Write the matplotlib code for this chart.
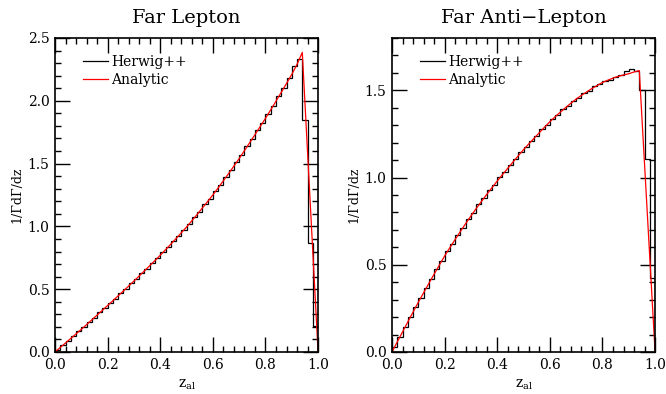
import matplotlib
matplotlib.use("Agg")
import matplotlib.pyplot as plt
import numpy as np
from matplotlib.ticker import MultipleLocator

plt.rcParams['font.family'] = 'DejaVu Serif'
plt.rcParams['mathtext.fontset'] = 'dejavuserif'

# bin edges of the Herwig++ histograms
bin_edges = np.linspace(0.0, 1.0, 51)

# Far lepton: Herwig++ histogram heights
lep_hist = [0.018, 0.058, 0.088, 0.124, 0.164, 0.199, 0.240, 0.273, 0.315, 0.349,
            0.391, 0.425, 0.468, 0.503, 0.547, 0.583, 0.628, 0.664, 0.709, 0.746,
            0.795, 0.833, 0.882, 0.922, 0.975, 1.016, 1.072, 1.117, 1.175, 1.221,
            1.282, 1.330, 1.396, 1.447, 1.514, 1.566, 1.638, 1.694, 1.766, 1.823,
            1.898, 1.957, 2.036, 2.098, 2.180, 2.280, 2.333, 1.850, 0.870, 0.207]

# Far lepton: analytic curve
lep_z = [0.00, 0.02, 0.04, 0.06, 0.08, 0.10, 0.12, 0.14, 0.16, 0.18,
         0.20, 0.22, 0.24, 0.26, 0.28, 0.30, 0.32, 0.34, 0.36, 0.38,
         0.40, 0.42, 0.44, 0.46, 0.48, 0.50, 0.52, 0.54, 0.56, 0.58,
         0.60, 0.62, 0.64, 0.66, 0.68, 0.70, 0.72, 0.74, 0.76, 0.78,
         0.80, 0.82, 0.84, 0.86, 0.88, 0.90, 0.92, 0.94, 1.00]
lep_ana = [0.000, 0.036, 0.072, 0.108, 0.144, 0.180, 0.218, 0.256, 0.294, 0.332,
           0.370, 0.408, 0.447, 0.486, 0.525, 0.565, 0.605, 0.646, 0.687, 0.728,
           0.770, 0.814, 0.858, 0.903, 0.949, 0.995, 1.044, 1.094, 1.146, 1.198,
           1.250, 1.306, 1.363, 1.421, 1.480, 1.540, 1.603, 1.666, 1.730, 1.795,
           1.860, 1.928, 1.997, 2.067, 2.138, 2.210, 2.290, 2.385, 0.000]

# Far anti-lepton: Herwig++ histogram heights
anti_hist = [0.031, 0.085, 0.146, 0.198, 0.259, 0.310, 0.369, 0.417, 0.475, 0.521,
             0.577, 0.619, 0.671, 0.711, 0.761, 0.798, 0.846, 0.880, 0.926, 0.958,
             1.002, 1.032, 1.074, 1.104, 1.146, 1.174, 1.212, 1.238, 1.276, 1.301,
             1.337, 1.359, 1.391, 1.411, 1.441, 1.458, 1.484, 1.498, 1.522, 1.534,
             1.555, 1.561, 1.578, 1.586, 1.612, 1.620, 1.612, 1.504, 1.105, 0.425]

# Far anti-lepton: analytic curve
anti_z = lep_z
anti_ana = [0.000, 0.058, 0.115, 0.172, 0.229, 0.285, 0.339, 0.393, 0.446, 0.498,
            0.550, 0.598, 0.645, 0.691, 0.736, 0.780, 0.822, 0.863, 0.903, 0.942,
            0.980, 1.017, 1.053, 1.089, 1.125, 1.160, 1.193, 1.225, 1.257, 1.289,
            1.320, 1.348, 1.375, 1.401, 1.426, 1.450, 1.471, 1.491, 1.510, 1.528,
            1.545, 1.558, 1.570, 1.580, 1.588, 1.595, 1.605, 1.613, 0.000]

panels = [
    {'title': 'Far Lepton', 'hist': lep_hist, 'z': lep_z, 'ana': lep_ana,
     'ymax': 2.5, 'rect': [0.0826, 0.1066, 0.395, 0.797]},
    {'title': 'Far Anti\u2212Lepton', 'hist': anti_hist, 'z': anti_z, 'ana': anti_ana,
     'ymax': 1.8, 'rect': [0.5886, 0.1066, 0.395, 0.797]},
]

fig = plt.figure(figsize=(6.66, 3.94), dpi=100)

for p in panels:
    ax = fig.add_axes(p['rect'])
    ax.stairs(p['hist'], bin_edges, color='black', lw=0.9, label='Herwig++')
    ax.plot(p['z'], p['ana'], color='red', lw=0.9, label='Analytic')

    ax.set_xlim(0, 1)
    ax.set_ylim(0, p['ymax'])
    ax.xaxis.set_major_locator(MultipleLocator(0.2))
    ax.xaxis.set_minor_locator(MultipleLocator(0.04))
    ax.yaxis.set_major_locator(MultipleLocator(0.5))
    ax.yaxis.set_minor_locator(MultipleLocator(0.1))
    ax.xaxis.set_major_formatter('{x:.1f}')
    ax.yaxis.set_major_formatter('{x:.1f}')
    ax.tick_params(which='both', direction='in', top=True, right=True,
                   labelsize=10, pad=4)
    ax.tick_params(which='major', length=11, width=1)
    ax.tick_params(which='minor', length=4.5, width=1)
    for s in ax.spines.values():
        s.set_linewidth(1.2)

    ax.set_title(p['title'], fontsize=14, pad=11)
    ax.set_xlabel(r'z$_{\mathregular{al}}$', fontsize=10, labelpad=4)
    ax.set_ylabel('1/\u0393d\u0393/dz', fontsize=9, labelpad=3)
    ax.legend(loc='upper left', frameon=False, fontsize=10,
              handlelength=1.8, handletextpad=0.2, labelspacing=0.3,
              bbox_to_anchor=(0.06, 0.985))

fig.savefig('out.png', dpi=100)
